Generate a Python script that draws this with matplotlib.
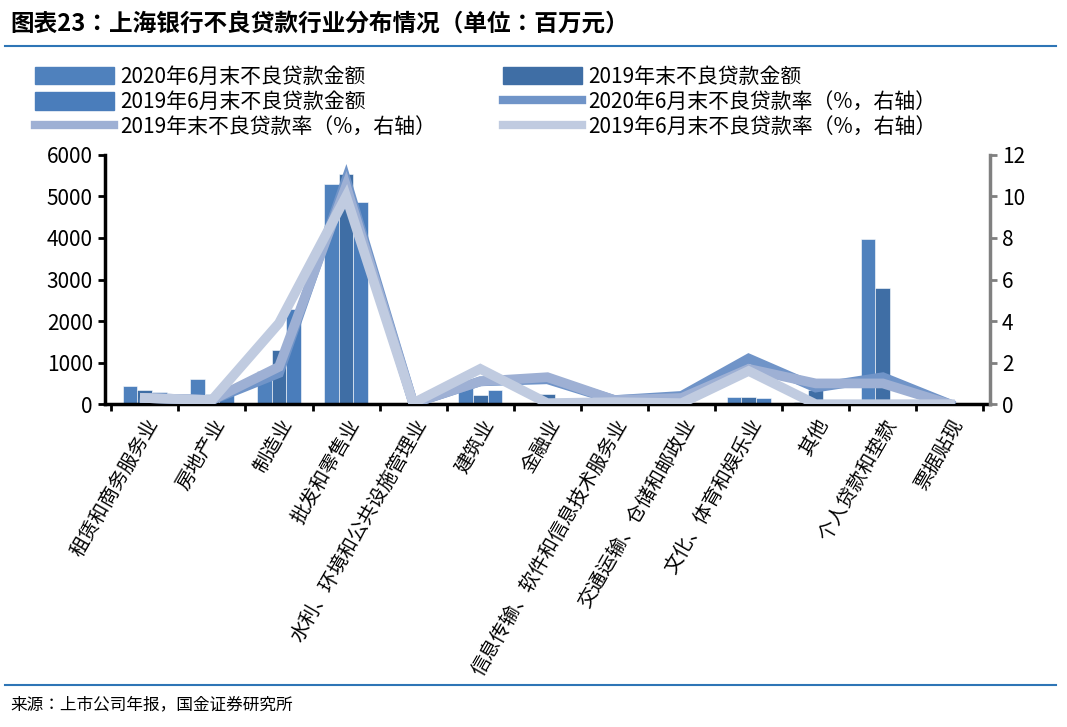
import matplotlib
matplotlib.use("Agg")
import matplotlib.pyplot as plt
from matplotlib.lines import Line2D
from matplotlib.patches import Patch
from matplotlib import font_manager as fm
import numpy as np

names = {f.name for f in fm.fontManager.ttflist}
cjk = [n for n in ["Noto Sans CJK SC", "Noto Sans CJK JP", "Noto Sans CJK TC", "Noto Sans CJK KR"] if n in names]
if not cjk:
    for f in fm.fontManager.ttflist:
        if "CJK" in f.name or "CJK" in f.fname:
            cjk = [f.name]
            break
if not cjk:
    import glob
    for p in glob.glob("/usr/share/fonts/**/*CJK*", recursive=True):
        try:
            fm.fontManager.addfont(p)
            cjk = [fm.FontProperties(fname=p).get_name()]
            break
        except Exception:
            pass
plt.rcParams['font.family'] = 'sans-serif'
plt.rcParams['font.sans-serif'] = cjk + ['DejaVu Sans']
plt.rcParams['axes.unicode_minus'] = False

categories = ["租赁和商务服务业", "房地产业", "制造业", "批发和零售业", "水利、环境和公共设施管理业",
              "建筑业", "金融业", "信息传输、软件和信息技术服务业", "交通运输、仓储和邮政业",
              "文化、体育和娱乐业", "其他", "个人贷款和垫款", "票据贴现"]
npl_2020h1 = [430, 600, 800, 5300, 10, 420, 0, 20, 30, 180, 60, 3980, 0]
npl_2019ye = [340, 240, 1300, 5530, 10, 230, 250, 20, 50, 180, 330, 2800, 0]
npl_2019h1 = [300, 240, 2300, 4870, 10, 350, 0, 20, 30, 140, 0, 0, 0]
rate_2020h1 = [0.3, 0.2, 1.5, 10.8, 0.05, 1.1, 1.2, 0.2, 0.4, 2.2, 0.8, 1.3, 0.0]
rate_2019ye = [0.3, 0.2, 1.8, 10.5, 0.05, 1.1, 1.3, 0.2, 0.3, 1.7, 1.0, 1.0, 0.0]
rate_2019h1 = [0.3, 0.2, 3.9, 10.0, 0.05, 1.7, 0.05, 0.1, 0.05, 1.6, 0.0, 0.0, 0.0]

c1, c2, c3 = "#4f81bd", "#3f6ea5", "#4a7dbb"
l1, l2, l3 = "#7094c8", "#9eb0d4", "#c0cbe0"

fig = plt.figure(figsize=(10.67, 7.27), dpi=100)
ax = fig.add_axes([0.098, 0.444, 0.83, 0.343])
x = np.arange(len(categories))
w = 0.22
ax.bar(x - w, npl_2020h1, w, color=c1, edgecolor="white", linewidth=0.4)
ax.bar(x, npl_2019ye, w, color=c2, edgecolor="white", linewidth=0.4)
ax.bar(x + w, npl_2019h1, w, color=c3, edgecolor="white", linewidth=0.4)
ax.set_ylim(0, 6000)
ax.set_xlim(-0.6, len(categories) - 0.4)
ax.set_yticks(range(0, 6001, 1000))
ax.tick_params(axis='y', labelsize=15, width=2, length=5)
ax.set_xticks(np.arange(len(categories) + 1) - 0.5, minor=True)
ax.set_xticks(x)
ax.set_xticklabels(categories, rotation=60, ha='right', rotation_mode='anchor', fontsize=14)
ax.tick_params(axis='x', which='major', length=0, pad=8)
ax.tick_params(axis='x', which='minor', length=5, width=2)
for s in ['top', 'right']:
    ax.spines[s].set_visible(False)
ax.spines['left'].set_linewidth(2.5)
ax.spines['bottom'].set_linewidth(2.5)

ax2 = ax.twinx()
ax2.plot(x, rate_2020h1, color=l1, lw=7, solid_joinstyle='miter')
ax2.plot(x, rate_2019ye, color=l2, lw=7, solid_joinstyle='miter')
ax2.plot(x, rate_2019h1, color=l3, lw=7, solid_joinstyle='miter')
ax2.set_ylim(0, 12)
ax2.set_yticks(range(0, 13, 2))
ax2.tick_params(axis='y', labelsize=15, width=2, length=5, colors='#808080', labelcolor='black')
for s in ['top', 'left', 'bottom']:
    ax2.spines[s].set_visible(False)
ax2.spines['right'].set_color('#808080')
ax2.spines['right'].set_linewidth(2.5)

handles = [Patch(color=c1), Patch(color=c2), Patch(color=c3),
           Line2D([], [], color=l1, lw=6), Line2D([], [], color=l2, lw=6), Line2D([], [], color=l3, lw=6)]
labels = ["2020年6月末不良贷款金额", "2019年末不良贷款金额", "2019年6月末不良贷款金额",
          "2020年6月末不良贷款率（%，右轴）", "2019年末不良贷款率（%，右轴）", "2019年6月末不良贷款率（%，右轴）"]
order = [0, 2, 4, 1, 3, 5]
fig.legend([handles[i] for i in order], [labels[i] for i in order], ncol=2,
           loc='upper left', bbox_to_anchor=(0.015, 0.935), frameon=False, fontsize=15,
           handlelength=3.8, handleheight=0.9, columnspacing=3.2, labelspacing=0.15, handletextpad=0.3)

fig.text(0.01, 0.968, "图表23：上海银行不良贷款行业分布情况（单位：百万元）", fontsize=17,
         fontweight='bold', style='italic', va='center')
fig.add_artist(Line2D([0.005, 0.99], [0.937, 0.937], color="#2e75b6", lw=1.5))
fig.add_artist(Line2D([0.005, 0.99], [0.058, 0.058], color="#2e75b6", lw=1.5))
fig.text(0.01, 0.03, "来源：上市公司年报，国金证券研究所", fontsize=12, va='center')

fig.savefig("out.png", dpi=100)
